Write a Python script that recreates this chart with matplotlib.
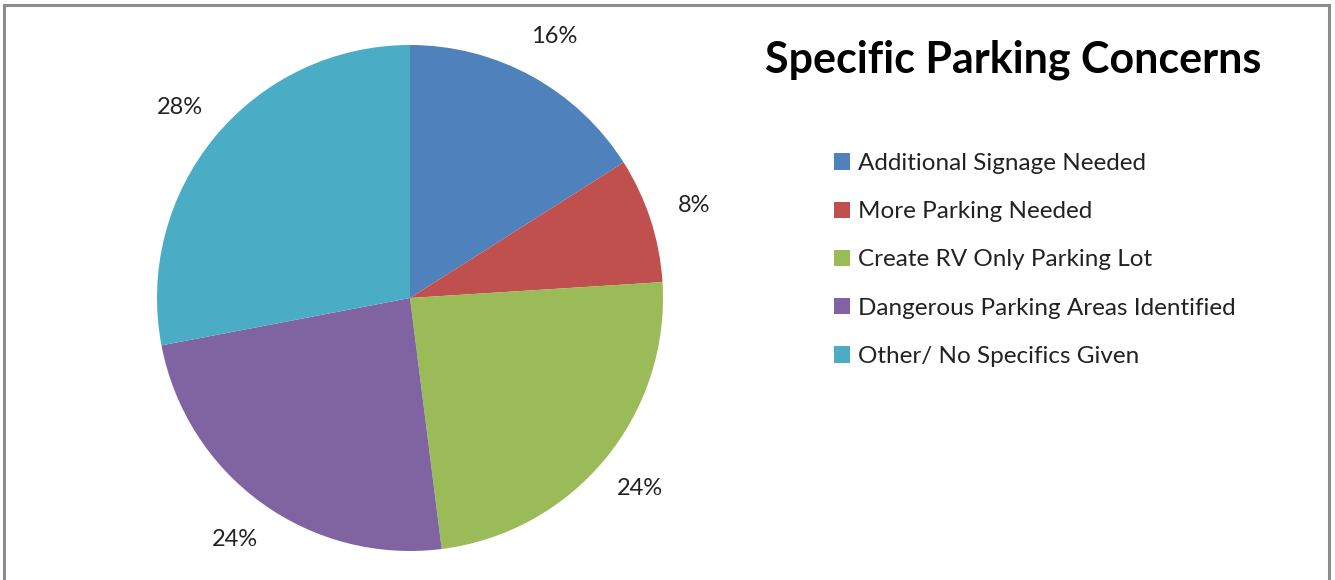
import matplotlib
matplotlib.use("Agg")
import matplotlib.pyplot as plt
from matplotlib.patches import Rectangle

categories = [
    "Additional Signage Needed",
    "More Parking Needed",
    "Create RV Only Parking Lot",
    "Dangerous Parking Areas Identified",
    "Other/ No Specifics Given",
]
shares = [16, 8, 24, 24, 28]
colors = ["#4F81BD", "#C0504D", "#9BBB59", "#8064A2", "#4BACC6"]
title = "Specific Parking Concerns"

plt.rcParams["font.family"] = ["Lato", "DejaVu Sans"]

W, H = 1335, 580
fig = plt.figure(figsize=(W / 100, H / 100), dpi=100)
fig.patch.set_facecolor("white")

# outer frame (bottom edge runs off the canvas)
fig.add_artist(Rectangle((3.5 / W, -6 / H), 1325.5 / W, (H + 6 - 4.5) / H,
                         transform=fig.transFigure, fill=False,
                         edgecolor="#8c8c8c", linewidth=2.2))

# pie axes: centre (410, 298) px from top, radius ~253 px
cx, cy, r = 410, H - 298, 253
ax = fig.add_axes([(cx - r) / W, (cy - r) / H, 2 * r / W, 2 * r / H])
wedges, texts, autotexts = ax.pie(
    shares, colors=colors, startangle=90, counterclock=False,
    autopct=lambda p: f"{p:.0f}%", pctdistance=1.18,
    wedgeprops=dict(linewidth=0),
    textprops=dict(fontsize=17, color="#222222"),
)
ax.set_xlim(-1, 1)
ax.set_ylim(-1, 1)
ax.set_aspect("equal")
ax.axis("off")

fig.text(1013 / W, 1 - 72 / H, title, ha="center", va="baseline",
         fontsize=31, fontweight="bold", color="#000000")

leg = fig.legend(wedges, categories, loc="upper left",
                 bbox_to_anchor=(834 / W, 1 - 153 / H), frameon=False,
                 fontsize=17.5, handlelength=0.66, handleheight=0.66,
                 handletextpad=0.33, labelspacing=1.12, borderpad=0,
                 borderaxespad=0)
for t in leg.get_texts():
    t.set_color("#222222")

fig.savefig("out.png", dpi=100, facecolor="white")
